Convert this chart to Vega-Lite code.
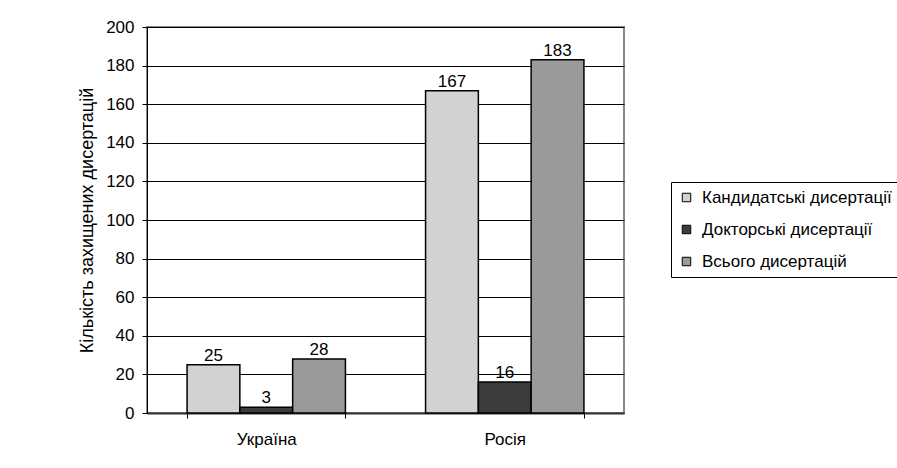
{
  "$schema": "https://vega.github.io/schema/vega-lite/v6.json",
  "autosize": {"type": "none"},
  "padding": {"left": 147, "top": 27, "right": 273, "bottom": 55},
  "width": 477,
  "height": 386,
  "background": "white",
  "data": {
    "values": [
      {"country": "Україна", "type": "Кандидатські дисертації", "value": 25},
      {"country": "Україна", "type": "Докторські дисертації", "value": 3},
      {"country": "Україна", "type": "Всього дисертацій", "value": 28},
      {"country": "Росія", "type": "Кандидатські дисертації", "value": 167},
      {"country": "Росія", "type": "Докторські дисертації", "value": 16},
      {"country": "Росія", "type": "Всього дисертацій", "value": 183}
    ]
  },
  "encoding": {
    "x": {
      "field": "country",
      "type": "nominal",
      "sort": ["Україна", "Росія"],
      "scale": {"paddingInner": 0.336, "paddingOuter": 0.168},
      "axis": {
        "title": null,
        "labelAngle": 0,
        "tickBand": "extent",
        "tickSize": 5,
        "labelPadding": 13,
        "grid": false,
        "domainColor": "#333",
        "domainWidth": 2
      }
    },
    "xOffset": {
      "field": "type",
      "sort": ["Кандидатські дисертації", "Докторські дисертації", "Всього дисертацій"],
      "scale": {"paddingInner": 0, "paddingOuter": 0}
    },
    "y": {
      "field": "value",
      "type": "quantitative",
      "scale": {"domain": [0, 200], "nice": false},
      "axis": {
        "values": [0, 20, 40, 60, 80, 100, 120, 140, 160, 180, 200],
        "title": "Кількість захищених дисертацій",
        "titleFontSize": 18,
        "tickSize": 5,
        "labelPadding": 8,
        "titlePadding": 9,
        "grid": true,
        "gridColor": "black",
        "gridWidth": 1,
        "gridOpacity": 1
      }
    }
  },
  "layer": [
    {
      "mark": {"type": "bar", "stroke": "black", "strokeWidth": 1.5, "opacity": 1},
      "encoding": {
        "color": {
          "field": "type",
          "type": "nominal",
          "sort": ["Кандидатські дисертації", "Докторські дисертації", "Всього дисертацій"],
          "scale": {
            "domain": ["Кандидатські дисертації", "Докторські дисертації", "Всього дисертацій"],
            "range": ["#d2d2d2", "#3c3c3c", "#9a9a9a"]
          },
          "legend": {
            "title": null,
            "orient": "none",
            "legendX": 524,
            "legendY": 155,
            "strokeColor": "black",
            "fillColor": "white",
            "padding": 7,
            "symbolType": "square",
            "symbolSize": 72,
            "symbolStrokeColor": "black",
            "symbolStrokeWidth": 1,
            "symbolOpacity": 1,
            "labelFontSize": 17,
            "labelFont": "Liberation Sans",
            "labelColor": "black",
            "labelLimit": 0,
            "rowPadding": 14,
            "labelOffset": 7
          }
        }
      }
    },
    {
      "mark": {"type": "text", "baseline": "alphabetic", "dy": -4, "font": "Liberation Sans", "fontSize": 17, "color": "black"},
      "encoding": {"text": {"field": "value", "type": "quantitative"}}
    }
  ],
  "config": {
    "view": {"stroke": "#888", "strokeWidth": 2},
    "axis": {
      "labelFont": "Liberation Sans",
      "labelFontSize": 17,
      "labelColor": "black",
      "titleFont": "Liberation Sans",
      "titleFontSize": 17,
      "titleFontWeight": "normal",
      "titleColor": "black",
      "domainColor": "black",
      "tickColor": "black"
    }
  }
}
